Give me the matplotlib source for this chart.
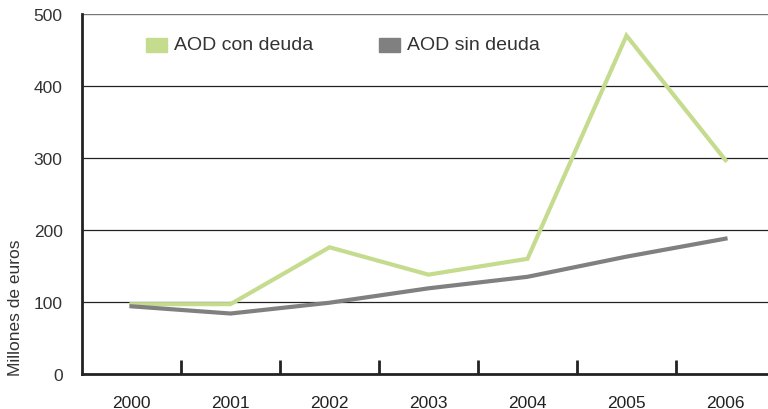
import numpy as np
import matplotlib.pyplot as plt

# ---------------- Data ----------------
years = ["2000", "2001", "2002", "2003", "2004", "2005", "2006"]
aod_con_deuda = [97, 97, 176, 138, 160, 470, 297]
aod_sin_deuda = [94, 84, 99, 119, 135, 163, 188]

GREEN = "#c5dc8f"
GRAY = "#808080"

plt.rcParams["font.family"] = ["Liberation Sans", "DejaVu Sans"]

fig = plt.figure(figsize=(7.68, 4.10), dpi=100)
ax = fig.add_axes([82 / 768, 35 / 410, 693 / 768, 360 / 410])

x = np.arange(len(years))
ax.plot(x, aod_con_deuda, color=GREEN, lw=3, solid_joinstyle="miter", zorder=3)
ax.plot(x, aod_sin_deuda, color=GRAY, lw=3, solid_joinstyle="miter", zorder=3)

ax.set_xlim(-0.5, 6.5)
ax.set_ylim(0, 500)

# gridlines
for yv in [100, 200, 300, 400]:
    ax.axhline(yv, color="#222222", lw=0.9, zorder=1)
ax.axhline(500, color="#777777", lw=1.0, zorder=1)

# axes / ticks
for s in ["top", "right"]:
    ax.spines[s].set_visible(False)
ax.spines["left"].set_linewidth(2)
ax.spines["bottom"].set_linewidth(2)
ax.spines["left"].set_color("#222222")
ax.spines["bottom"].set_color("#222222")

ax.set_yticks([0, 100, 200, 300, 400, 500])
ax.tick_params(axis="y", length=0, pad=14, labelsize=12.5, labelcolor="#333333")

ax.set_xticks(x)
ax.set_xticklabels(years)
ax.tick_params(axis="x", which="major", length=0, pad=15, labelsize=12.5, labelcolor="#222222")
ax.set_xticks(np.arange(0.5, 6.5, 1), minor=True)
ax.tick_params(axis="x", which="minor", direction="in", length=10, width=2, color="#222222")

# legend
ax.add_patch(plt.Rectangle((0.15, 447), 0.21, 20, color=GREEN, transform=ax.transData, clip_on=False))
ax.text(0.43, 457, "AOD con deuda", fontsize=14, va="center", color="#333333")
ax.add_patch(plt.Rectangle((2.5, 447), 0.21, 20, color=GRAY, transform=ax.transData, clip_on=False))
ax.text(2.78, 457, "AOD sin deuda", fontsize=14, va="center", color="#333333")

fig.text(16 / 768, 1 - 308 / 410, "Millones de euros", rotation=90, ha="center", va="center",
         fontsize=12.5, color="#333333")

fig.savefig("out.png", dpi=100)
